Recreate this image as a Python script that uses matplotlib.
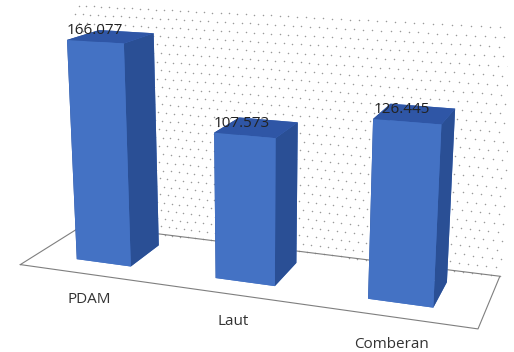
import numpy as np
import matplotlib
matplotlib.use("Agg")
import matplotlib.pyplot as plt

categories = ["PDAM", "Laut", "Comberan"]
values = [166.077, 107.573, 126.445]
value_labels = ["166.077", "107.573", "126.445"]

z_max = 180

front_col = "#4472C4"
top_col = "#2F56A6"
side_col = "#2A4F95"

fig = plt.figure(figsize=(5.14, 3.52), dpi=100)
# square 3d panel as wide as the figure, so nothing gets clipped at the sides
ax = fig.add_axes([-0.014, -0.18, 1, 1.46], projection="3d")
ax.set_proj_type("persp", focal_length=0.4)
ax.view_init(elev=15, azim=-70)
ax.set_box_aspect((3.45, 1, 1.84), zoom=1.05)
ax.set_axis_off()
ax.computed_zorder = False

n = len(categories)
ax.set_xlim(-0.5, n - 0.5)
ax.set_ylim(0, 1)
ax.set_zlim(0, z_max)

# dotted back wall
gx, gz = np.meshgrid(np.linspace(-0.5, n - 0.5, 52), np.linspace(0, z_max, 28))
gx = gx + (np.arange(28)[:, None] % 2) * (3 / 51 / 2)
keep = gx <= n - 0.5
ax.scatter(gx[keep], np.ones(keep.sum()), gz[keep], s=1.2, c="#9a9a9a",
           depthshade=False, linewidths=0, zorder=1)

# floor outline
fx = [-0.5, n - 0.5, n - 0.5, -0.5, -0.5]
fy = [0, 0, 1, 1, 0]
ax.plot(fx, fy, [0] * 5, color="#7f7f7f", lw=0.8, zorder=2)

# bars: faces are -z, +z, -y, +y, -x, +x
bw, bd = 0.4, 0.5
xs = np.arange(n) - bw / 2
face_cols = []
for _ in range(n):
    face_cols += [front_col, top_col, front_col, front_col, side_col, side_col]
ax.bar3d(xs, np.full(n, 0.5 - bd / 2), np.zeros(n), bw, bd, values,
         color=face_cols, shade=False, zorder=3)

for i, (v, lab) in enumerate(zip(values, value_labels)):
    ax.text(i - bw / 2, 0.5 - bd / 2, v + 4, lab, fontsize=11,
            family="Open Sans", color="#222222", zorder=5)
    ax.text(i, 0, -20, categories[i], fontsize=11, family="Open Sans",
            color="#333333", ha="center", va="center", zorder=5)

fig.savefig("out.png", dpi=100)
